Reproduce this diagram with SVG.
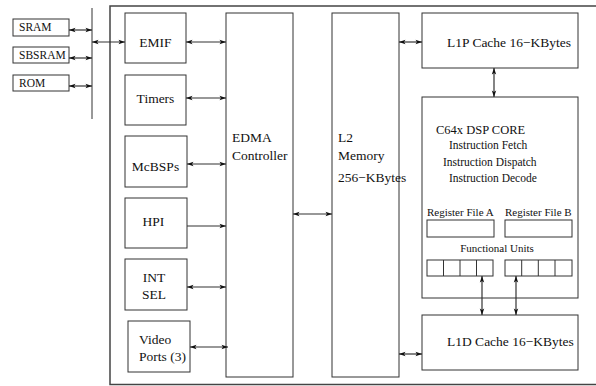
<svg xmlns="http://www.w3.org/2000/svg" width="596" height="386" viewBox="0 0 596 386">
<defs>
<style>
.b{fill:#fff;stroke:#333;stroke-width:1}
.n{fill:none;stroke:#333;stroke-width:1}
.c{fill:none;stroke:#333;stroke-width:1.2}
.d{marker-end:url(#ah);marker-start:url(#ah)}
.e{marker-end:url(#ah)}
</style>
<marker id="ah" viewBox="-7 -3 8 6" refX="0" refY="0" markerWidth="8" markerHeight="6" markerUnits="userSpaceOnUse" orient="auto-start-reverse">
<path d="M-6.5,-2.2 L0,0 L-6.5,2.2 L-5,0 Z" fill="#111"/>
</marker>
</defs>
<rect width="596" height="386" fill="#fff"/>
<g id="board">
<path class="n" d="M600,6 H110 V384.5 H600" style="stroke:#444;stroke-width:1.5"/>
</g>
<g id="bus"><line class="n" x1="92" y1="8" x2="92" y2="119"/></g>
<g font-family="Liberation Serif, Times New Roman, serif" fill="#111" font-size="13.5">
<g id="sram"><rect class="b" x="13" y="19" width="56" height="17"/><text font-size="11.5" x="19" y="31">SRAM</text></g>
<g id="sbsram"><rect class="b" x="13" y="47" width="56" height="16"/><text font-size="11.5" x="19" y="59">SBSRAM</text></g>
<g id="rom"><rect class="b" x="13" y="75" width="56" height="16"/><text font-size="11.5" x="19" y="87">ROM</text></g>
<g id="emif"><rect class="b" x="125" y="13" width="61" height="50"/><text x="155.5" y="47" text-anchor="middle">EMIF</text></g>
<g id="timers"><rect class="b" x="125" y="75" width="61" height="50"/><text x="155.5" y="103" text-anchor="middle">Timers</text></g>
<g id="mcbsps"><rect class="b" x="125" y="136" width="62" height="51"/><text x="155.5" y="171" text-anchor="middle">McBSPs</text></g>
<g id="hpi"><rect class="b" x="125" y="198" width="62" height="50"/><text x="153.5" y="226" text-anchor="middle">HPI</text></g>
<g id="intsel"><rect class="b" x="125" y="259" width="62" height="51"/><text x="154" y="282" text-anchor="middle">INT</text><text x="154" y="299" text-anchor="middle">SEL</text></g>
<g id="video"><rect class="b" x="128" y="321" width="62" height="51"/><text x="139" y="344">Video</text><text x="139" y="361">Ports (3)</text></g>
<g id="edma"><rect class="b" x="226" y="13" width="67" height="364"/><text x="232" y="142">EDMA</text><text x="232" y="160">Controller</text></g>
<g id="l2"><rect class="b" x="332" y="13" width="67" height="364"/><text x="338" y="142">L2</text><text x="338" y="160">Memory</text><text x="338" y="182">256−KBytes</text></g>
<g id="l1p"><rect class="b" x="422" y="13" width="156" height="55"/><text x="447" y="47">L1P Cache 16−KBytes</text></g>
<g id="core"><rect class="b" x="422" y="97" width="156" height="201"/>
<text x="436" y="134" font-size="12.5">C64x DSP CORE</text>
<text font-size="11.5" x="449" y="149">Instruction Fetch</text>
<text font-size="11.5" x="443" y="166">Instruction Dispatch</text>
<text font-size="11.5" x="449" y="182">Instruction Decode</text>
<text font-size="11" x="427" y="216">Register File A</text>
<text font-size="11" x="505" y="216">Register File B</text>
<rect class="b" x="427" y="220" width="67" height="17"/>
<rect class="b" x="505" y="220" width="67" height="17"/>
<text font-size="11" x="497" y="252" text-anchor="middle">Functional Units</text>
<rect class="b" x="427" y="260" width="66" height="16"/>
<path class="n" d="M443.5,260 V276 M460,260 V276 M476.5,260 V276"/>
<rect class="b" x="505" y="260" width="67" height="16"/>
<path class="n" d="M521.7,260 V276 M538.3,260 V276 M555,260 V276"/>
</g>
<g id="l1d"><rect class="b" x="422" y="315" width="156" height="55"/><text x="447" y="346">L1D Cache 16−KBytes</text></g>
</g>
<g id="connectors">
<line class="c d" x1="69" y1="30" x2="92" y2="30"/>
<line class="c d" x1="69" y1="58" x2="92" y2="58"/>
<line class="c d" x1="69" y1="86" x2="92" y2="86"/>
<line class="c d" x1="92" y1="42" x2="125" y2="42"/>
<line class="c d" x1="186" y1="42" x2="226" y2="42"/>
<line class="c d" x1="186" y1="98" x2="226" y2="98"/>
<line class="c d" x1="187" y1="164" x2="226" y2="164"/>
<line class="c e" x1="187" y1="226" x2="226" y2="226"/>
<line class="c d" x1="187" y1="287" x2="226" y2="287"/>
<line class="c d" x1="190" y1="347" x2="228" y2="347"/>
<line class="c d" x1="293" y1="214" x2="332" y2="214"/>
<line class="c d" x1="399" y1="42" x2="422" y2="42"/>
<line class="c d" x1="399" y1="354" x2="422" y2="354"/>
<line class="c d" x1="494" y1="68" x2="494" y2="97"/>
<line class="c d" x1="482" y1="276" x2="482" y2="315"/>
<line class="c d" x1="516" y1="276" x2="516" y2="315"/>
</g>
</svg>
